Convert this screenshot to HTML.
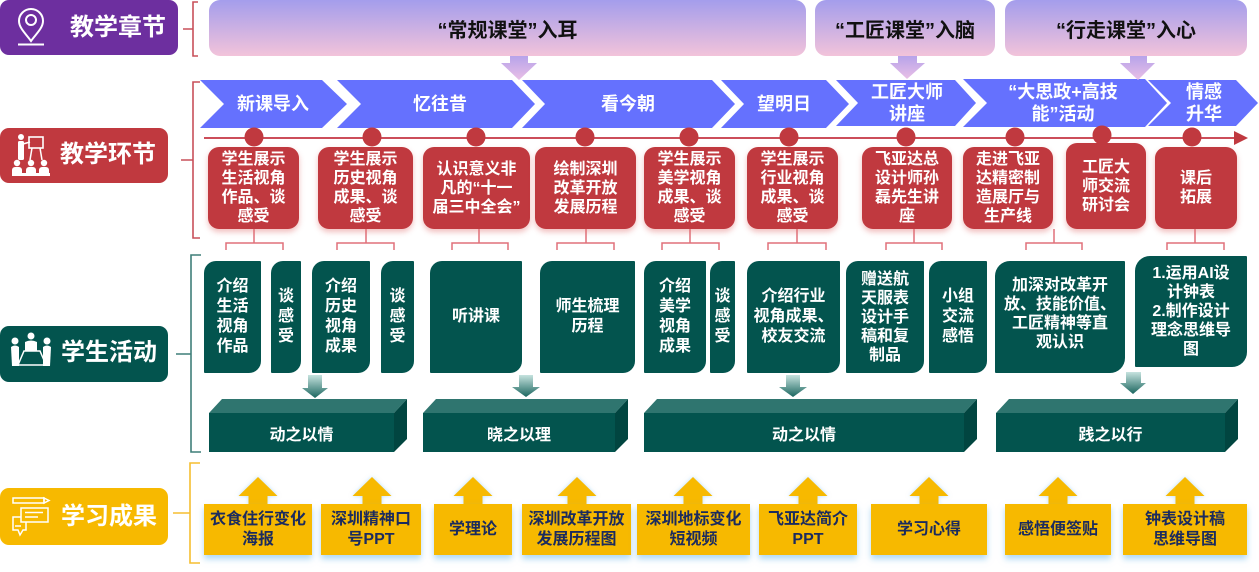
<!DOCTYPE html>
<html><head><meta charset="utf-8">
<style>
*{margin:0;padding:0;box-sizing:border-box}
body{width:1259px;height:572px;background:#fff;position:relative;overflow:hidden;font-family:"Liberation Sans","Noto Sans CJK SC",sans-serif;font-weight:bold}
.a{position:absolute}
.c{display:flex;align-items:center;justify-content:center;text-align:center;white-space:nowrap}
.lab{color:#fff;font-size:24px;line-height:28px}
.ban{background:linear-gradient(#A49DEC,#F2C3DA);border-radius:11px;color:#111;font-size:20px}
.red{background:#C0393F;border-radius:11px;color:#fff;font-size:16px;line-height:19px;box-shadow:0 3px 6px rgba(225,110,110,.45)}
.grn{background:#03544E;color:#fff;font-size:16px;line-height:20px;border-radius:12px 1px 12px 1px}
.yel{background:#F7B900;color:#1B2B5E;font-size:16px;line-height:20px;box-shadow:0 4px 6px rgba(110,185,235,.55)}
.chv{color:#fff;font-size:18px;line-height:22px}
.blk{color:#fff;font-size:16px}
</style></head><body>

<svg class="a" style="left:0;top:0" width="1259" height="572">
<defs>
<linearGradient id="pg" x1="0" y1="0" x2="0" y2="1"><stop offset="0" stop-color="#B7A3EA"/><stop offset="1" stop-color="#E9BFE6"/></linearGradient>
<linearGradient id="tg" x1="0" y1="0" x2="0" y2="1"><stop offset="0" stop-color="#C6E3DF"/><stop offset="1" stop-color="#1B665F"/></linearGradient>
</defs>
<!-- labels -->
<rect x="0" y="0" width="178" height="55" rx="9" fill="#6D2F9F"/>
<rect x="0" y="128" width="168" height="55" rx="9" fill="#C0393F"/>
<rect x="0" y="326" width="168" height="56" rx="9" fill="#03544E"/>
<rect x="0" y="488" width="168" height="57" rx="9" fill="#F7B900"/>
<!-- brackets -->
<g fill="none" stroke-width="1.6">
<path d="M198,2 L193,2 L193,56 L198,56 M183,29 L193,29" stroke="#C8505A"/>
<path d="M200,82 L193,82 L193,238 L200,238 M181,160 L193,160" stroke="#C8505A"/>
<path d="M201,255 L191,255 L191,452 L201,452 M176,354 L191,354" stroke="#3F7F79"/>
<path d="M200,463 L190,463 L190,563 L200,563 M173,513 L190,513" stroke="#F5BE30"/>
</g>
<!-- chevrons -->
<g fill="#6571FE">
<polygon points="200,80 322,80 347,104 322,128 200,128 224,104"/>
<polygon points="337,80 512,80 535,104 512,128 337,128 361,104"/>
<polygon points="522,80 712,80 735,104 712,128 522,128 545,104"/>
<polygon points="721,80 826,80 849,104 826,128 721,128 744,104"/>
<polygon points="836,80 955,80 976,103 955,126 836,126 858,103"/>
<polygon points="963,79 1145,79 1167,103 1145,127 963,127 987,103"/>
<polygon points="1148,80 1236,80 1258,103 1236,126 1148,126 1171,103"/>
</g>
<!-- purple down arrows -->
<g fill="url(#pg)">
<polygon points="510,56 528,56 528,63 537,63 519,80 501,63 510,63"/>
<polygon points="898,56 917,56 917,63 925,63 907,79 890,63 898,63"/>
<polygon points="1130,56 1147,56 1147,63 1155,63 1138,80 1120,63 1130,63"/>
</g>
<!-- timeline -->
<line x1="204" y1="138" x2="1238" y2="138" stroke="#CC4E5A" stroke-width="2"/>
<polygon points="1234,131 1248,138 1234,145" fill="#C0393F"/>
<!-- pink connectors -->
<g fill="none" stroke="#E0707A" stroke-width="1.5">
<path d="M254,229 L254,243 M226,250 L226,243 L283,243 L283,250"/>
<path d="M366,229 L366,243 M337,250 L337,243 L394,243 L394,250"/>
<path d="M479,229 L479,243 M452,250 L452,243 L508,243 L508,250"/>
<path d="M586,229 L586,243 M557,250 L557,243 L614,243 L614,250"/>
<path d="M690,229 L690,243 M662,250 L662,243 L719,243 L719,250"/>
<path d="M797,229 L797,243 M768,250 L768,243 L826,243 L826,250"/>
<path d="M914,229 L914,243 M886,250 L886,243 L942,243 L942,250"/>
<path d="M1054,229 L1054,243 M1026,250 L1026,243 L1082,243 L1082,250"/>
<path d="M1195,229 L1195,243 M1167,250 L1167,243 L1224,243 L1224,250"/>
</g>
<!-- teal arrows -->
<g fill="url(#tg)">
<polygon points="308,375 322,375 322,388 328,388 315,398 302,388 308,388"/>
<polygon points="519,375 533,375 533,387 540,387 526,397 512,387 519,387"/>
<polygon points="786,375 800,375 800,387 807,387 793,397 779,387 786,387"/>
<polygon points="1126,372 1141,372 1141,383 1146,383 1133,394 1120,383 1126,383"/>
</g>
<!-- 3D blocks -->
<g>
<polygon points="209,413 222,399 407,399 394,413" fill="#2F756F"/>
<polygon points="394,413 407,399 407,439 394,452" fill="#014540"/>
<rect x="209" y="413" width="185" height="39" fill="#03544E"/>

<polygon points="423,413 436,399 628,399 615,413" fill="#2F756F"/>
<polygon points="615,413 628,399 628,439 615,452" fill="#014540"/>
<rect x="423" y="413" width="192" height="39" fill="#03544E"/>

<polygon points="644,413 657,399 977,399 964,413" fill="#2F756F"/>
<polygon points="964,413 977,399 977,439 964,452" fill="#014540"/>
<rect x="644" y="413" width="320" height="39" fill="#03544E"/>

<polygon points="996,413 1009,399 1238,399 1225,413" fill="#2F756F"/>
<polygon points="1225,413 1238,399 1238,439 1225,452" fill="#014540"/>
<rect x="996" y="413" width="229" height="39" fill="#03544E"/>
</g>
<!-- yellow up arrows -->
<g fill="#F7B900" style="filter:drop-shadow(0 0 2px rgba(120,190,240,.5))">
<polygon points="248.5,505 248.5,496 238.5,496 258,477 277.5,496 267.5,496 267.5,505"/>
<polygon points="362.5,505 362.5,496 352.5,496 372,477 391.5,496 381.5,496 381.5,505"/>
<polygon points="463.5,505 463.5,496 453.5,496 473,477 492.5,496 482.5,496 482.5,505"/>
<polygon points="567.5,505 567.5,496 557.5,496 577,477 596.5,496 586.5,496 586.5,505"/>
<polygon points="683.5,505 683.5,496 673.5,496 693,477 712.5,496 702.5,496 702.5,505"/>
<polygon points="798.5,505 798.5,496 788.5,496 808,477 827.5,496 817.5,496 817.5,505"/>
<polygon points="919.5,505 919.5,496 909.5,496 929,477 948.5,496 938.5,496 938.5,505"/>
<polygon points="1048.5,505 1048.5,496 1038.5,496 1058,477 1077.5,496 1067.5,496 1067.5,505"/>
<polygon points="1175.5,505 1175.5,496 1165.5,496 1185,477 1204.5,496 1194.5,496 1194.5,505"/>
</g>
</svg>

<!-- label texts -->
<div class="a lab" style="left:70px;top:14px">教学章节</div>
<div class="a lab" style="left:60px;top:141px">教学环节</div>
<div class="a lab" style="left:61px;top:339px">学生活动</div>
<div class="a lab" style="left:61px;top:503px">学习成果</div>

<!-- banners -->
<div class="a c ban" style="left:209px;top:0;width:597px;height:56px">“常规课堂”入耳</div>
<div class="a c ban" style="left:815px;top:0;width:180px;height:56px">“工匠课堂”入脑</div>
<div class="a c ban" style="left:1005px;top:0;width:242px;height:56px">“行走课堂”入心</div>

<!-- chevron texts -->
<div class="a c chv" style="left:213px;top:80px;width:120px;height:48px">新课导入</div>
<div class="a c chv" style="left:380px;top:80px;width:120px;height:48px">忆往昔</div>
<div class="a c chv" style="left:568px;top:80px;width:120px;height:48px">看今朝</div>
<div class="a c chv" style="left:724px;top:80px;width:120px;height:48px">望明日</div>
<div class="a c chv" style="left:847px;top:79px;width:120px;height:48px">工匠大师<br>讲座</div>
<div class="a c chv" style="left:993px;top:79px;width:140px;height:48px">“大思政+高技<br>能”活动</div>
<div class="a c chv" style="left:1164px;top:79px;width:80px;height:48px">情感<br>升华</div>

<!-- red boxes -->
<div class="a c red" style="left:208px;top:147px;width:91px;height:82px">学生展示<br>生活视角<br>作品、谈<br>感受</div>
<div class="a c red" style="left:318px;top:147px;width:95px;height:82px">学生展示<br>历史视角<br>成果、谈<br>感受</div>
<div class="a c red" style="left:423px;top:147px;width:107px;height:82px">认识意义非<br>凡的“十一<br>届三中全会”</div>
<div class="a c red" style="left:535px;top:147px;width:101px;height:82px">绘制深圳<br>改革开放<br>发展历程</div>
<div class="a c red" style="left:644px;top:147px;width:91px;height:82px">学生展示<br>美学视角<br>成果、谈<br>感受</div>
<div class="a c red" style="left:747px;top:147px;width:91px;height:82px">学生展示<br>行业视角<br>成果、谈<br>感受</div>
<div class="a c red" style="left:862px;top:147px;width:90px;height:82px">飞亚达总<br>设计师孙<br>磊先生讲<br>座</div>
<div class="a c red" style="left:963px;top:147px;width:90px;height:82px">走进飞亚<br>达精密制<br>造展厅与<br>生产线</div>
<div class="a c red" style="left:1066px;top:143px;width:80px;height:86px">工匠大<br>师交流<br>研讨会</div>
<div class="a c red" style="left:1155px;top:147px;width:82px;height:82px">课后<br>拓展</div>

<!-- green boxes -->
<div class="a c grn" style="left:204px;top:261px;width:57px;height:112px">介绍<br>生活<br>视角<br>作品</div>
<div class="a c grn" style="left:271px;top:261px;width:30px;height:112px">谈<br>感<br>受</div>
<div class="a c grn" style="left:312px;top:261px;width:58px;height:112px">介绍<br>历史<br>视角<br>成果</div>
<div class="a c grn" style="left:381px;top:261px;width:33px;height:112px">谈<br>感<br>受</div>
<div class="a c grn" style="left:430px;top:261px;width:92px;height:112px">听讲课</div>
<div class="a c grn" style="left:540px;top:261px;width:95px;height:112px">师生梳理<br>历程</div>
<div class="a c grn" style="left:644px;top:261px;width:62px;height:112px">介绍<br>美学<br>视角<br>成果</div>
<div class="a c grn" style="left:710px;top:261px;width:25px;height:112px">谈<br>感<br>受</div>
<div class="a c grn" style="left:747px;top:261px;width:93px;height:112px">介绍行业<br>视角成果、<br>校友交流</div>
<div class="a c grn" style="left:846px;top:261px;width:78px;height:112px;line-height:19px">赠送航<br>天服表<br>设计手<br>稿和复<br>制品</div>
<div class="a c grn" style="left:929px;top:261px;width:58px;height:112px">小组<br>交流<br>感悟</div>
<div class="a c grn" style="left:995px;top:261px;width:130px;height:112px;line-height:19px;border-radius:15px 1px 15px 1px;padding-bottom:6px">加深对改革开<br>放、技能价值、<br>工匠精神等直<br>观认识</div>
<div class="a c grn" style="left:1135px;top:256px;width:112px;height:111px;line-height:19px;border-radius:15px 1px 15px 1px">1.运用AI设<br>计钟表<br>2.制作设计<br>理念思维导<br>图</div>

<!-- block texts -->
<div class="a c blk" style="left:209px;top:413px;width:185px;height:39px">动之以情</div>
<div class="a c blk" style="left:423px;top:413px;width:192px;height:39px">晓之以理</div>
<div class="a c blk" style="left:644px;top:413px;width:320px;height:39px">动之以情</div>
<div class="a c blk" style="left:996px;top:413px;width:229px;height:39px">践之以行</div>

<!-- yellow boxes -->
<div class="a c yel" style="left:204px;top:504px;width:108px;height:51px">衣食住行变化<br>海报</div>
<div class="a c yel" style="left:321px;top:504px;width:100px;height:51px">深圳精神口<br>号PPT</div>
<div class="a c yel" style="left:434px;top:504px;width:78px;height:51px">学理论</div>
<div class="a c yel" style="left:522px;top:504px;width:109px;height:51px">深圳改革开放<br>发展历程图</div>
<div class="a c yel" style="left:637px;top:504px;width:113px;height:51px">深圳地标变化<br>短视频</div>
<div class="a c yel" style="left:759px;top:504px;width:98px;height:51px">飞亚达简介<br>PPT</div>
<div class="a c yel" style="left:871px;top:504px;width:116px;height:51px">学习心得</div>
<div class="a c yel" style="left:1005px;top:504px;width:106px;height:51px">感悟便签贴</div>
<div class="a c yel" style="left:1123px;top:504px;width:124px;height:51px">钟表设计稿<br>思维导图</div>

<!-- top svg: icons + dots -->
<svg class="a" style="left:0;top:0;pointer-events:none" width="1259" height="572">
<g fill="#C0393F">
<circle cx="254" cy="137" r="9.5"/><circle cx="372" cy="137" r="9.5"/><circle cx="476" cy="137" r="9.5"/>
<circle cx="585" cy="137" r="9.5"/><circle cx="689" cy="137" r="9.5"/><circle cx="789" cy="137" r="9.5"/>
<circle cx="906" cy="137" r="9.5"/><circle cx="1015" cy="137" r="9.5"/><circle cx="1102" cy="135" r="9.5"/>
<circle cx="1192" cy="137" r="9.5"/>
</g>
<!-- pin icon -->
<g stroke="#fff" stroke-width="2" fill="none">
<path d="M31,41 C26,34 19,28 19,21 A12,12 0 0 1 43,21 C43,28 36,34 31,41 Z"/>
<circle cx="31" cy="20" r="5"/>
<line x1="18" y1="44.5" x2="44" y2="44.5"/>
</g>
<!-- teacher icon -->
<g fill="#fff">
<circle cx="21" cy="137" r="3"/>
<rect x="18" y="141" width="6" height="19" rx="1.5"/>
<line x1="23" y1="144" x2="30" y2="142" stroke="#fff" stroke-width="1.5"/>
<rect x="29" y="137" width="14" height="11" fill="none" stroke="#fff" stroke-width="1.6"/>
<line x1="32" y1="148" x2="30" y2="160" stroke="#fff" stroke-width="1.5"/>
<line x1="40" y1="148" x2="42" y2="160" stroke="#fff" stroke-width="1.5"/>
<circle cx="17" cy="163" r="3.2"/><circle cx="31" cy="163" r="3.2"/><circle cx="44" cy="163" r="3.2"/>
<rect x="12" y="167" width="10" height="9" rx="3"/><rect x="26" y="167" width="10" height="9" rx="3"/><rect x="39" y="167" width="10" height="9" rx="3"/>
<rect x="12" y="173" width="38" height="3"/>
</g>
<!-- students icon -->
<g fill="#fff">
<circle cx="15" cy="341" r="3.5"/><circle cx="31" cy="336" r="3.5"/><circle cx="47" cy="341" r="3.5"/>
<path d="M11,347 Q15,344 19,347 L19,366 L12,366 Z"/>
<path d="M43,347 Q47,344 51,347 L50,366 L43,366 Z"/>
<path d="M25,342 Q31,339 37,342 L37,351 L25,351 Z"/>
<polygon points="24,351 40,351 46,365 18,365" fill="none" stroke="#fff" stroke-width="1.5"/>
</g>
<!-- learning icon -->
<g stroke="#fff" stroke-width="1.5" fill="none">
<rect x="13" y="498" width="31" height="5"/>
<polygon points="44,498 49,500.5 44,503"/>
<rect x="21" y="508" width="27" height="14"/>
<line x1="25" y1="512.5" x2="43" y2="512.5"/><line x1="25" y1="517" x2="38" y2="517"/>
<path d="M21,517 L13,517 L13,530 L18,530 L20,535 L23,530 L26,530 L26,522"/>
<line x1="15" y1="526" x2="21" y2="526"/>
</g>
</svg>
</body></html>
